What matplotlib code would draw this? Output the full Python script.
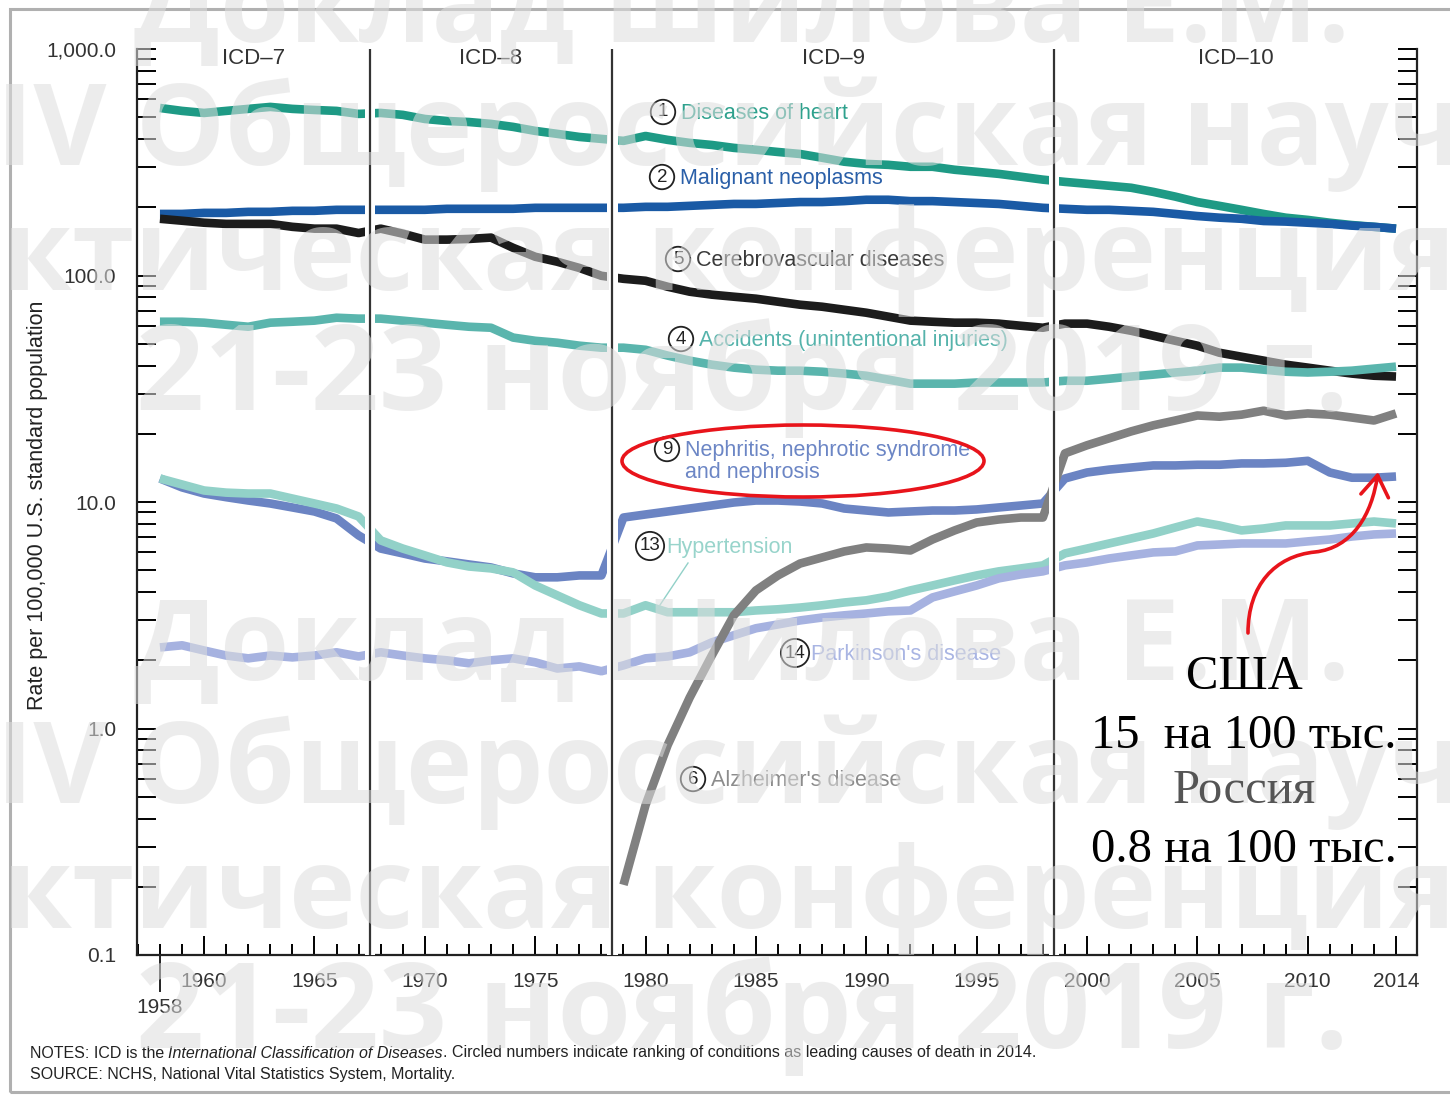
import numpy as np
import matplotlib
matplotlib.use("Agg")
import matplotlib.pyplot as plt
from matplotlib.ticker import LogLocator, FuncFormatter, NullFormatter, FixedLocator, MultipleLocator
from matplotlib.patches import Ellipse, FancyArrowPatch, Rectangle
from matplotlib.path import Path
from matplotlib.lines import Line2D

# age-adjusted death rates per 100,000, 1958-2014
years = np.arange(1958, 2015)
alz_years = np.arange(1979, 2015)

heart = [549, 533, 522, 533, 544, 555, 544, 538, 533, 517,
         522, 512, 491, 481, 476, 467, 453, 435, 422, 409,
         401, 393, 413, 397, 385, 377, 366, 359, 351, 344,
         331, 318, 311, 308, 302, 302, 293, 287, 281, 273,
         265, 259, 254, 249, 244, 234, 223, 211, 203, 195,
         187, 180, 176, 171, 167, 164, 161]
neoplasms = [187, 187, 189, 189, 191, 191, 193, 193, 195, 195,
             195, 195, 195, 197, 197, 197, 197, 199, 199, 199,
             199, 199, 201, 201, 203, 205, 207, 207, 209, 211,
             211, 213, 216, 216, 213, 213, 211, 209, 207, 203,
             199, 197, 195, 195, 193, 191, 187, 183, 180, 178,
             174, 173, 171, 169, 166, 164, 161]
cerebro = [178, 174.5, 171, 169, 169, 169, 164, 161, 161, 154,
           161, 153, 144, 144, 145, 147, 132.5, 121, 115, 108,
           99.7, 96.7, 94.8, 89.2, 84.8, 82.3, 80.6, 79.0, 76.6, 74.3,
           72.8, 70.6, 68.5, 65.8, 63.2, 62.5, 61.9, 61.9, 61.3, 60.0,
           58.8, 61.3, 61.3, 59.4, 57.0, 54.2, 51.5, 49.0, 45.6, 43.8,
           42.1, 40.4, 39.2, 38.0, 36.9, 36.1, 35.8]
accidents = [62.5, 62.5, 61.9, 60.6, 59.4, 61.9, 62.5, 63.2, 65.1, 64.5,
             64.5, 63.2, 61.9, 60.6, 59.4, 58.8, 53.2, 51.5, 50.5, 49.0,
             48.0, 48.0, 47.0, 44.3, 42.1, 40.4, 39.2, 38.4, 38.0, 38.0,
             37.6, 36.9, 36.1, 34.7, 33.3, 33.3, 33.3, 33.7, 33.7, 33.7,
             33.7, 34.3, 34.3, 35.0, 35.8, 36.5, 37.3, 38.0, 39.2, 39.2,
             38.4, 37.6, 37.3, 37.6, 38.0, 38.8, 39.6]
nephritis = [12.7, 11.6, 10.9, 10.5, 10.15, 9.85, 9.46, 9.08, 8.46, 7.12,
             6.23, 5.93, 5.63, 5.47, 5.30, 5.14, 4.84, 4.65, 4.65, 4.74,
             4.74, 8.54, 8.81, 9.08, 9.36, 9.65, 9.95, 10.15, 10.15, 10.05,
             9.85, 9.36, 9.17, 8.99, 9.08, 9.17, 9.17, 9.27, 9.46, 9.65,
             9.85, 12.7, 13.5, 13.9, 14.2, 14.5, 14.5, 14.6, 14.6, 14.8,
             14.8, 14.9, 15.2, 13.5, 12.8, 12.8, 12.96]
hypertension = [12.7, 11.95, 11.24, 11.0, 10.9, 10.9, 10.36, 9.85, 9.36, 8.63,
                6.77, 6.23, 5.81, 5.41, 5.19, 5.09, 4.89, 4.28, 3.87, 3.50,
                3.22, 3.22, 3.50, 3.26, 3.26, 3.26, 3.26, 3.32, 3.36, 3.42,
                3.50, 3.60, 3.68, 3.83, 4.07, 4.28, 4.51, 4.74, 4.94, 5.09,
                5.25, 5.93, 6.23, 6.56, 6.90, 7.26, 7.72, 8.20, 7.88, 7.49,
                7.64, 7.88, 7.88, 7.88, 8.04, 8.20, 8.04]
parkinson = [2.28, 2.33, 2.21, 2.10, 2.04, 2.10, 2.06, 2.10, 2.17, 2.08,
             2.17, 2.10, 2.04, 2.00, 1.94, 2.00, 2.04, 1.96, 1.84, 1.88,
             1.79, 1.90, 2.04, 2.08, 2.17, 2.40, 2.58, 2.77, 2.88, 3.00,
             3.09, 3.16, 3.22, 3.29, 3.32, 3.79, 4.03, 4.28, 4.60, 4.79,
             4.94, 5.25, 5.41, 5.63, 5.81, 5.99, 6.05, 6.43, 6.49, 6.56,
             6.56, 6.56, 6.70, 6.83, 7.04, 7.19, 7.26]
alzheimer = [0.204, 0.459, 0.844, 1.37, 2.10, 3.16, 4.07, 4.74, 5.35, 5.69,
             6.05, 6.30, 6.23, 6.11, 6.83, 7.49, 8.12, 8.37, 8.54, 8.54,
             16.4, 17.8, 19.1, 20.5, 21.8, 22.9, 24.1, 23.8, 24.3, 25.3,
             24.1, 24.6, 24.3, 23.6, 22.9, 24.6]

icd_breaks = [1967.5, 1978.5, 1998.5]
icd_names = ["ICD–7", "ICD–8", "ICD–9", "ICD–10"]
xticks_major = [1960, 1965, 1970, 1975, 1980, 1985, 1990, 1995, 2000, 2005, 2010, 2014]

# rank, label, line colour, label colour
series = [
    (years, heart, "1", "Diseases of heart", "#1e9a85", "#2ea18d"),
    (years, neoplasms, "2", "Malignant neoplasms", "#1a5aa5", "#2a5fa8"),
    (years, cerebro, "5", "Cerebrovascular diseases", "#1c1c1c", "#3a3a3a"),
    (years, accidents, "4", "Accidents (unintentional injuries)", "#5ab5ad", "#55b3ab"),
    (years, nephritis, "9", "Nephritis, nephrotic syndrome\nand nephrosis", "#6b84c3", "#6c86c5"),
    (years, hypertension, "13", "Hypertension", "#92d1c8", "#98d4cb"),
    (years, parkinson, "14", "Parkinson's disease", "#a6b2e0", "#a9b5e3"),
    (alz_years, alzheimer, "6", "Alzheimer's disease", "#808080", "#8c8c8c"),
]

W, H = 1450, 1095


def fx(px):
    return px / W


def fy(py):
    return 1 - py / H


plt.rcParams["font.family"] = ["Liberation Sans", "DejaVu Sans"]
fig = plt.figure(figsize=(W / 100, H / 100), dpi=100)
fig.patch.set_facecolor("white")

ax = fig.add_axes([fx(137), fy(955), fx(1417) - fx(137), fy(49) - fy(955)])
ax.set_yscale("log")
ax.set_ylim(0.1, 1000)
ax.set_xlim(1956.96, 2014.95)

for xs, ys, rank, name, col, tcol in series:
    ax.plot(xs, ys, color=col, lw=6.2, solid_capstyle="butt", solid_joinstyle="round", zorder=2)

# classification revisions: white gap plus a thin rule
for b in icd_breaks:
    ax.axvspan(b - 0.23, b + 0.23, color="white", zorder=3, lw=0)
    ax.axvline(b, color="#333333", lw=1.6, zorder=4)

edges = [ax.get_xlim()[0]] + icd_breaks + [ax.get_xlim()[1]]
for i, name in enumerate(icd_names):
    ax.text((edges[i] + edges[i + 1]) / 2, 0.99, name, transform=ax.get_xaxis_transform(),
            ha="center", va="center", fontsize=16, color="#333333")

ax.spines["top"].set_visible(False)
for s in ["left", "right", "bottom"]:
    ax.spines[s].set_linewidth(1.6)
    ax.spines[s].set_color("#222222")

ax.yaxis.set_major_locator(LogLocator(base=10, numticks=10))
ax.yaxis.set_minor_locator(LogLocator(base=10, subs=np.arange(2, 10), numticks=10))
ax.yaxis.set_major_formatter(FuncFormatter(lambda v, _: f"{v:,.1f}"))
ax.yaxis.set_minor_formatter(NullFormatter())
ax.tick_params(axis="y", which="both", direction="in", length=14, width=1.4,
               left=True, right=True, labelsize=15, labelcolor="#333333", pad=15)

ax.xaxis.set_major_locator(FixedLocator(xticks_major))
ax.xaxis.set_minor_locator(MultipleLocator(1))
ax.tick_params(axis="x", which="major", direction="in", length=14, width=1.4,
               labelsize=15, labelcolor="#333333", pad=12)
ax.tick_params(axis="x", which="minor", direction="in", length=8, width=1.4)

# first year marked below the axis
ax.plot([1958, 1958], [0, -0.04], transform=ax.get_xaxis_transform(),
        color="#222222", lw=1.4, clip_on=False)
ax.text(1958, -0.047, "1958", transform=ax.get_xaxis_transform(), ha="center", va="top",
        fontsize=15, color="#333333")

fig.text(fx(38), fy(505), "Rate per 100,000 U.S. standard population", rotation=90,
         ha="center", va="center", fontsize=15.5, color="#222222")

# circled ranks and series names
label_pos = {
    "1": (663, 112), "2": (662, 177), "5": (678, 259), "4": (681, 339),
    "9": (667, 449), "13": (650, 546), "14": (795, 653), "6": (693, 779),
}
for xs, ys, rank, name, col, tcol in series:
    px, py = label_pos[rank]
    fig.text(fx(px), fy(py), rank, ha="center", va="center", fontsize=13.5, color="#222222",
             zorder=5, bbox=dict(boxstyle="circle,pad=0.2", fc="none", ec="#222222", lw=1.3))
    off = 18 if len(rank) == 1 else 16
    fig.text(fx(px + off), fy(py - 9), name, ha="left", va="top", fontsize=15.5,
             color=tcol, zorder=5, linespacing=1.08)

fig.add_artist(Line2D([fx(688), fx(660)], [fy(563), fy(605)], color="#92d1c8", lw=1.0))

note_size = 11.5
notes = fig.text(fx(30), fy(1053), "NOTES: ICD is the", fontsize=note_size, va="center",
                 color="#222222")
it = ax.annotate("International Classification of Diseases", xy=(1, 0), xycoords=notes,
                 xytext=(3, 0), textcoords="offset points", va="bottom", ha="left",
                 fontsize=note_size, fontstyle="italic", color="#222222", annotation_clip=False)
ax.annotate(". Circled numbers indicate ranking of conditions as leading causes of death in 2014.",
            xy=(1, 0), xycoords=it, va="bottom", ha="left", fontsize=note_size, color="#222222",
            annotation_clip=False)
fig.text(fx(30), fy(1074), "SOURCE: NCHS, National Vital Statistics System, Mortality.",
         fontsize=note_size, va="center", color="#222222")

# slide frame
fig.add_artist(Rectangle((fx(10), fy(1092)), fx(1470) - fx(10), fy(9) - fy(1092),
                         transform=fig.transFigure, fill=False, ec="#b0b0b0", lw=2.2))

# watermark
wm_kw = dict(fontsize=81, fontweight="bold", family="Open Sans", color="#dedede",
             alpha=0.55, zorder=10, va="baseline")
renderer = fig.canvas.get_renderer()
probe = fig.text(0, 0, "пра", **wm_kw)
cut = probe.get_window_extent(renderer).width
probe.remove()
for base in (0, 638):
    fig.text(fx(742), fy(42 + base), "Доклад Шилова Е.М.", ha="center", **wm_kw)
    fig.text(fx(-4), fy(165 + base), "IV Общероссийская научно-", ha="left", **wm_kw)
    fig.text(fx(2 - cut), fy(290 + base), "практическая конференция", ha="left", **wm_kw)
    fig.text(fx(742), fy(410 + base), "21-23 ноября 2019 г.", ha="center",
             **{**wm_kw, "fontsize": 86})

# red highlight and comment
red = "#e8141b"
fig.add_artist(Ellipse((fx(803), fy(461)), 362 / W, 72 / H, transform=fig.transFigure,
                       fill=False, ec=red, lw=2.6, zorder=20))
pts = [(1248, 633), (1248, 585), (1275, 556), (1315, 552),
       (1352, 548), (1372, 515), (1378, 472)]
arrow_path = Path([(fx(x), fy(y)) for x, y in pts],
                  [Path.MOVETO] + [Path.CURVE4] * 6)
fig.add_artist(FancyArrowPatch(path=arrow_path, transform=fig.transFigure,
                               arrowstyle="->,head_length=0.6,head_width=0.4",
                               mutation_scale=25, lw=2.6, color=red, zorder=20))

serif = ["Liberation Serif", "DejaVu Serif"]
for text, py, col in [("США", 677, "black"), ("15  на 100 тыс.", 736, "black"),
                      ("Россия", 791, "#555555"), ("0.8 на 100 тыс.", 850, "black")]:
    fig.text(fx(1244), fy(py), text, ha="center", va="center", fontsize=35,
             family=serif, color=col, zorder=20)

fig.savefig("out.png", dpi=100, facecolor="white")
